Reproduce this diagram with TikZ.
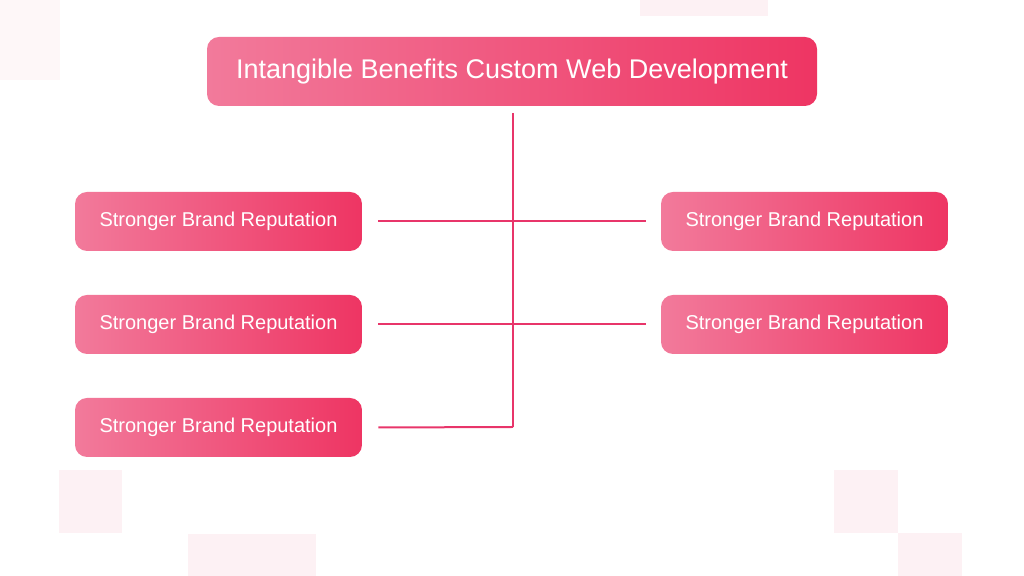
\documentclass[tikz,border=0pt]{standalone}
\usepackage{fontspec}
\setmainfont{Liberation Sans}
\usepackage{tikz}
\usetikzlibrary{positioning}
\definecolor{pinkline}{HTML}{E8356A}
\definecolor{pinklight}{HTML}{F27A9B}
\definecolor{pinkdark}{HTML}{EE3563}
\definecolor{bgsq}{HTML}{FDF1F4}

\begin{document}
\begin{tikzpicture}[
        x=0.5pt, y=-0.5pt,
        box_style/.style={rounded corners=6pt, left color=pinklight, right color=pinkdark,
            text=white, minimum width=143.5pt, minimum height=29.5pt, inner sep=0pt, font=\fontsize{10}{12}\selectfont},
        title_style/.style={box_style, minimum width=305pt, minimum height=34.5pt, font=\fontsize{13.5}{16}\selectfont},
        link_style/.style={pinkline, line width=1pt}
    ]
        \useasboundingbox (0,0) rectangle (1024,576);
        % Background squares
        \fill[bgsq] (59,470) rectangle (122,533);
        \fill[bgsq] (188,534) rectangle (316,576);
        \fill[bgsq] (834,470) rectangle (898,533);
        \fill[bgsq] (898,533) rectangle (962,576);
        \fill[bgsq] (640,0) rectangle (768,16);
        \fill[bgsq!60] (0,0) rectangle (60,80);

        % Boxes
        \node[title_style] (title) at (512,71.5) {Intangible Benefits Custom Web Development};
        \node[box_style] (l1) at (218.5,221.5) {Stronger Brand Reputation};
        \node[box_style] (l2) at (218.5,324.5) {Stronger Brand Reputation};
        \node[box_style] (l3) at (218.5,427.5) {Stronger Brand Reputation};
        \node[box_style] (r1) at (804.5,221.5) {Stronger Brand Reputation};
        \node[box_style] (r2) at (804.5,324.5) {Stronger Brand Reputation};

        % Links
        \coordinate (top) at (513,113);
        \coordinate (bot) at (513,427);
        \draw[link_style] (top) -- (bot);
        \draw[link_style] ([xshift=8pt]l1.east) -- ([xshift=-7.5pt]r1.west);
        \draw[link_style] ([xshift=8pt]l2.east) -- ([xshift=-7.5pt]r2.west);
        \draw[link_style] ([xshift=8pt]l3.east) -- (bot);
    \end{tikzpicture}
\end{document}
